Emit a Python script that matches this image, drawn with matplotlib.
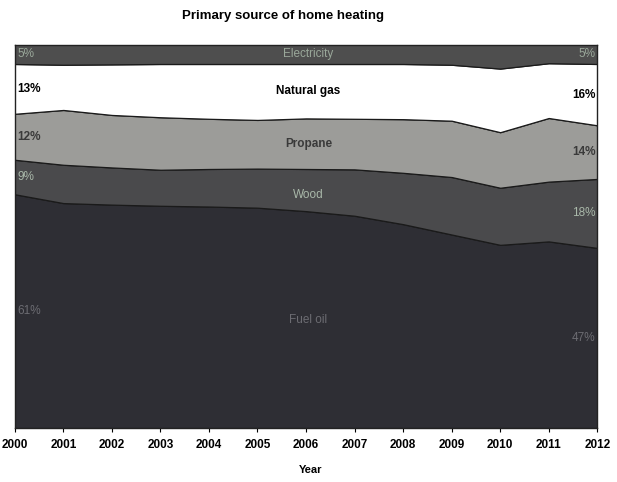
import matplotlib.pyplot as plt
import numpy as np

plt.rcParams['font.family'] = ['Liberation Sans', 'DejaVu Sans']

years = [2000, 2001, 2002, 2003, 2004, 2005, 2006, 2007, 2008, 2009, 2010, 2011, 2012]

# share of homes by primary heating fuel (%)
fuel_oil = [61, 58.7, 58.3, 58.0, 57.8, 57.5, 56.6, 55.4, 53.2, 50.5, 47.8, 48.7, 47]
wood = [9, 10.0, 9.7, 9.4, 9.8, 10.2, 11.0, 12.1, 13.4, 15.0, 14.9, 15.6, 18]
propane = [12, 14.3, 13.7, 13.7, 13.1, 12.7, 13.2, 13.2, 14.0, 14.7, 14.5, 16.6, 14]
natural_gas = [13, 11.8, 13.2, 13.9, 14.3, 14.6, 14.2, 14.3, 14.4, 14.6, 16.6, 14.3, 16]
electricity = [5, 5.2, 5.1, 5.0, 5.0, 5.0, 5.0, 5.0, 5.0, 5.2, 6.2, 4.8, 5]

names = ["Fuel oil", "Wood", "Propane", "Natural gas", "Electricity"]
series = [fuel_oil, wood, propane, natural_gas, electricity]
colors = ["#2e2e34", "#4a4a4c", "#9c9c99", "#ffffff", "#4e4e4e"]
label_colors = ["#6c6c72", "#a9b8a9", "#3a3a3a", "#000000", "#9aa89a"]
label_weights = ["normal", "normal", "bold", "bold", "normal"]
# where the name sits inside its band (fraction of band height)
name_pos = [0.5, 0.38, 0.5, 0.5, 0.5]

fig = plt.figure(figsize=(6.17, 4.82), dpi=100)
ax = fig.add_axes([0.024, 0.112, 0.944, 0.795])

ax.stackplot(years, *series, colors=colors, edgecolor="#1a1a1a", linewidth=0.9)

ax.set_xlim(2000, 2012)
ax.set_ylim(0, 100)
ax.set_xticks(years)
ax.set_xticklabels([str(y) for y in years], fontsize=8.5, fontweight="bold")
ax.set_yticks([])
ax.tick_params(axis="x", direction="out", length=3, pad=5)
for s in ax.spines.values():
    s.set_linewidth(1.0)
    s.set_color("#222222")

# labels: start value, name in the middle, end value
bottoms = np.zeros(len(years))
for vals, name, lc, fw, npos in zip(series, names, label_colors, label_weights, name_pos):
    vals = np.array(vals)
    mids = bottoms + vals / 2
    ax.text(2000.06, mids[0], f"{vals[0]:.0f}%", ha="left", va="center",
            fontsize=8.5, color=lc, fontweight=fw)
    ax.text(2011.97, mids[-1], f"{vals[-1]:.0f}%", ha="right", va="center",
            fontsize=8.5, color=lc, fontweight=fw)
    ax.text(2006.05, bottoms[6] + vals[6] * npos, name, ha="center", va="center",
            fontsize=8.5, color=lc, fontweight=fw)
    bottoms = bottoms + vals

fig.text(0.459, 0.967, "Primary source of home heating", ha="center", va="center",
         fontsize=9.5, fontweight="bold")
fig.text(0.503, 0.025, "Year", ha="center", va="center",
         fontsize=8, fontweight="bold")

fig.savefig("out.png", dpi=100)
